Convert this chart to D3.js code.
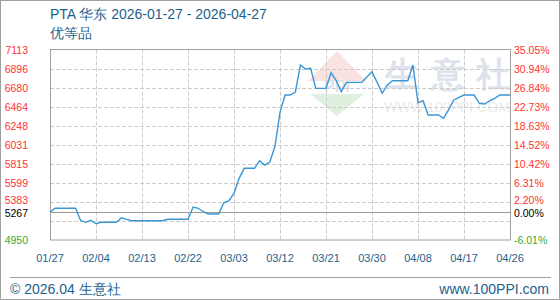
<!DOCTYPE html>
<html>
<head>
<meta charset="utf-8">
<script src="https://cdn.jsdelivr.net/npm/d3@7"></script>
<style>
  body { margin: 0; background: #fff; }
  text { font-family: "Liberation Sans", Arial, sans-serif; }
</style>
</head>
<body>
<svg id="chart" width="560" height="300"></svg>
<script>
// daily prices 01/27 .. 04/27
var prices = [
  5267, 5310, 5310, 5310, 5310, 5310, 5169, 5151, 5174, 5135,
  5151, 5151, 5151, 5151, 5203, 5185, 5169, 5169, 5169, 5169,
  5169, 5169, 5169, 5185, 5185, 5185, 5185, 5185, 5325, 5310,
  5271, 5245, 5245, 5245, 5373, 5396, 5480, 5650, 5764, 5764,
  5764, 5850, 5800, 5835, 6009, 6400, 6596, 6596, 6630, 6937,
  6892, 6900, 6672, 6672, 6672, 6850, 6760, 6634, 6740, 6740,
  6740, 6740, 6800, 6861, 6740, 6616, 6710, 6759, 6759, 6759,
  6759, 6937, 6509, 6532, 6369, 6369, 6369, 6332, 6430, 6540,
  6570, 6596, 6596, 6596, 6502, 6494, 6530, 6559, 6596, 6596,
  6596
];

var xTickIndex = [0, 9, 18, 27, 36, 45, 54, 63, 72, 81, 90];
var xTickLabels = ["01/27", "02/04", "02/13", "02/22", "03/03", "03/12", "03/21", "03/30", "04/08", "04/17", "04/26"];

var yMin = 4950, yMax = 7113, baseValue = 5267;
var yTickLabels = ["4950", "", "5383", "5599", "5815", "6031", "6248", "6464", "6680", "6896", "7113"];
var pctTickLabels = ["-6.01%", "", "2.20%", "6.31%", "10.42%", "14.52%", "18.63%", "22.73%", "26.84%", "30.94%", "35.05%"];
var baseLabel = "5267", basePctLabel = "0.00%";

var svg = d3.select("#chart");
var margin = {t: 49.5, r: 50, b: 60, l: 50};
var width = 560 - margin.l - margin.r,
    height = 300 - margin.t - margin.b;

var x = d3.scaleLinear().domain([0, prices.length - 1]).range([margin.l, margin.l + width]);
var y = d3.scaleLinear().domain([yMin, yMax]).range([margin.t + height, margin.t]);
var yTicks = d3.range(11).map(function (i) { return yMin + i * (yMax - yMin) / 10; });

var blue = "#1d5f8e";

// outer frame
svg.append("rect")
    .attr("x", 0.5).attr("y", 0.5)
    .attr("width", 559).attr("height", 299)
    .attr("fill", "none").attr("stroke", "#a0a0a0");

// title
svg.append("text").attr("x", 50).attr("y", 19)
    .attr("fill", blue).style("font-size", "14px")
    .text("PTA 华东 2026-01-27 - 2026-04-27");
svg.append("text").attr("x", 50).attr("y", 38)
    .attr("fill", blue).style("font-size", "14px")
    .text("优等品");

// watermark
var wm = svg.append("g");
wm.append("path")
    .attr("d", "M337,51 L366,81 L308,81 Z")
    .attr("fill", "#f9e2df");
wm.append("path")
    .attr("d", "M310,94 L364,94 L337,116 Z")
    .attr("fill", "#dff0df");
wm.append("text").attr("x", 337).attr("y", 92)
    .attr("text-anchor", "middle").attr("fill", "#dfe3ea")
    .style("font-size", "16px").style("font-weight", "bold")
    .text("PPI");
wm.append("text").attr("x", 385).attr("y", 86)
    .attr("textLength", 125).attr("lengthAdjust", "spacing")
    .attr("fill", "#dde2ec").style("font-size", "34px").style("font-weight", "bold")
    .text("生意社");
wm.append("text").attr("x", 384).attr("y", 112)
    .attr("textLength", 126).attr("lengthAdjust", "spacingAndGlyphs")
    .attr("fill", "#ececec").style("font-size", "14px")
    .text("WWW.100PPI.COM");

// grid
svg.append("g").selectAll("line")
    .data(yTicks.slice(1, -1))
    .enter().append("line")
    .attr("x1", margin.l).attr("x2", margin.l + width)
    .attr("y1", function (d) { return Math.round(y(d)) + 0.5; })
    .attr("y2", function (d) { return Math.round(y(d)) + 0.5; })
    .attr("stroke", "#cccccc").attr("stroke-dasharray", "4,2");

svg.append("g").selectAll("line")
    .data(xTickIndex.slice(1, -1))
    .enter().append("line")
    .attr("x1", function (d) { return Math.round(x(d)) + 0.5; })
    .attr("x2", function (d) { return Math.round(x(d)) + 0.5; })
    .attr("y1", margin.t).attr("y2", margin.t + height)
    .attr("stroke", "#cccccc").attr("stroke-dasharray", "4,2");

// base line
svg.append("line")
    .attr("x1", margin.l).attr("x2", margin.l + width)
    .attr("y1", Math.round(y(baseValue)) + 0.5).attr("y2", Math.round(y(baseValue)) + 0.5)
    .attr("stroke", "#999999");

// plot border
svg.append("rect")
    .attr("x", margin.l + 0.5).attr("y", margin.t)
    .attr("width", width).attr("height", height)
    .attr("fill", "none").attr("stroke", "#a0a0a0");

// price line
var line = d3.line()
    .x(function (d, i) { return x(i); })
    .y(function (d) { return y(d); });

svg.append("path")
    .datum(prices)
    .attr("d", line)
    .attr("fill", "none")
    .attr("stroke", "#3a97d6")
    .attr("stroke-width", 1.4);

// label nudge so the tick next to the base value doesn't collide
function labelY(d, i) {
    return y(d) + (i === 2 ? 2.5 : 4);
}

// left labels
var leftAxis = svg.append("g").style("font-size", "10.5px");
leftAxis.selectAll("text")
    .data(yTicks)
    .enter().append("text")
    .attr("x", 28).attr("y", labelY)
    .attr("text-anchor", "end")
    .attr("fill", function (d, i) { return i === 0 ? "#33aa33" : "#ff3333"; })
    .text(function (d, i) { return yTickLabels[i]; });
leftAxis.append("text")
    .attr("x", 28).attr("y", y(baseValue) + 4.5)
    .attr("text-anchor", "end").attr("fill", "#000")
    .text(baseLabel);

// right labels
var rightAxis = svg.append("g").style("font-size", "10.5px");
rightAxis.selectAll("text")
    .data(yTicks)
    .enter().append("text")
    .attr("x", 514).attr("y", labelY)
    .attr("fill", function (d, i) { return i === 0 ? "#33aa33" : "#ff3333"; })
    .text(function (d, i) { return pctTickLabels[i]; });
rightAxis.append("text")
    .attr("x", 514).attr("y", y(baseValue) + 4.5)
    .attr("fill", "#000")
    .text(basePctLabel);

// x labels
svg.append("g").style("font-size", "11px")
    .selectAll("text")
    .data(xTickIndex)
    .enter().append("text")
    .attr("x", function (d) { return x(d); })
    .attr("y", 262)
    .attr("text-anchor", "middle")
    .attr("fill", blue)
    .text(function (d, i) { return xTickLabels[i]; });

// footer
svg.append("line")
    .attr("x1", 10).attr("x2", 551)
    .attr("y1", 277.5).attr("y2", 277.5)
    .attr("stroke", "#a0a0a0");
svg.append("text").attr("x", 10).attr("y", 294)
    .attr("fill", blue).style("font-size", "14px")
    .text("© 2026.04 生意社");
svg.append("text").attr("x", 549).attr("y", 294)
    .attr("text-anchor", "end")
    .attr("fill", blue).style("font-size", "14px")
    .text("www.100PPI.com");
</script>
</body>
</html>
